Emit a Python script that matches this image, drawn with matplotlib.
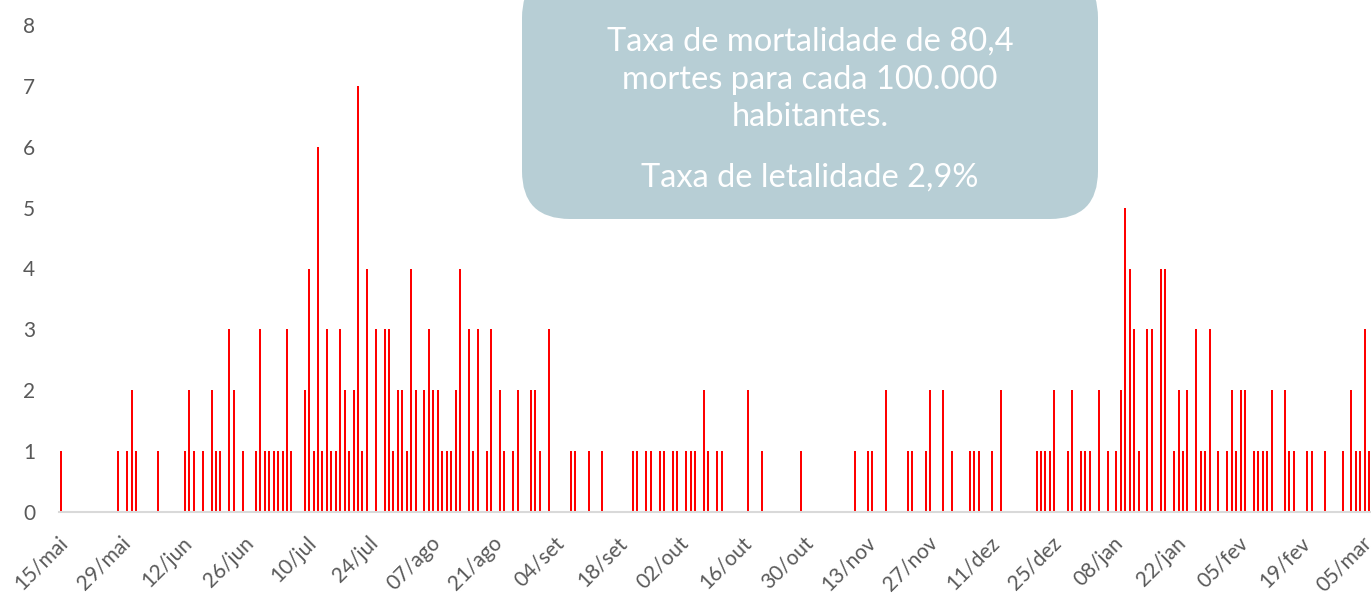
import matplotlib
matplotlib.use("Agg")
import matplotlib.pyplot as plt
import matplotlib.transforms as mtrans
from matplotlib.patches import FancyBboxPatch
import numpy as np

# óbitos diários a partir de 15/mai (uma linha = 14 dias)
obitos = [
    1, 0, 0, 0, 0, 0, 0, 0, 0, 0, 0, 0, 0, 1,
    0, 1, 2, 1, 0, 0, 0, 0, 1, 0, 0, 0, 0, 0,
    1, 2, 1, 0, 1, 0, 2, 1, 1, 0, 3, 2, 0, 1,
    0, 0, 1, 3, 1, 1, 1, 1, 1, 3, 1, 0, 0, 2,
    4, 1, 6, 1, 3, 1, 1, 3, 2, 1, 2, 7, 1, 4,
    0, 3, 0, 3, 3, 1, 2, 2, 1, 4, 2, 0, 2, 3,
    2, 2, 1, 1, 1, 2, 4, 0, 3, 1, 3, 0, 1, 3,
    0, 2, 1, 0, 1, 2, 0, 0, 2, 2, 1, 0, 3, 0,
    0, 0, 0, 1, 1, 0, 0, 1, 0, 0, 1, 0, 0, 0,
    0, 0, 0, 1, 1, 0, 1, 1, 0, 1, 1, 0, 1, 1,
    0, 1, 1, 1, 0, 2, 1, 0, 1, 1, 0, 0, 0, 0,
    0, 2, 0, 0, 1, 0, 0, 0, 0, 0, 0, 0, 0, 1,
    0, 0, 0, 0, 0, 0, 0, 0, 0, 0, 0, 1, 0, 0,
    1, 1, 0, 0, 2, 0, 0, 0, 0, 1, 1, 0, 0, 1,
    2, 0, 0, 2, 0, 1, 0, 0, 0, 1, 1, 1, 0, 0,
    1, 0, 2, 0, 0, 0, 0, 0, 0, 0, 1, 1, 1, 1,
    2, 0, 0, 1, 2, 0, 1, 1, 1, 0, 2, 0, 1, 0,
    1, 2, 5, 4, 3, 1, 0, 3, 3, 0, 4, 4, 0, 1,
    2, 1, 2, 0, 3, 1, 1, 3, 0, 1, 0, 1, 2, 1,
    2, 2, 0, 1, 1, 1, 1, 2, 0, 0, 2, 1, 1, 0,
    0, 1, 1, 0, 0, 1, 0, 0, 0, 1, 0, 2, 1, 1,
    3, 1,
]

rotulos = ["15/mai", "29/mai", "12/jun", "26/jun", "10/jul", "24/jul",
           "07/ago", "21/ago", "04/set", "18/set", "02/out", "16/out",
           "30/out", "13/nov", "27/nov", "11/dez", "25/dez", "08/jan",
           "22/jan", "05/fev", "19/fev", "05/mar"]

texto_caixa = ["Taxa de mortalidade de 80,4", "mortes para cada 100.000",
               "habitantes.", "Taxa de letalidade 2,9%"]

plt.rcParams['font.family'] = ['Lato', 'DejaVu Sans']

W, H = 1371, 593
fig = plt.figure(figsize=(W / 100, H / 100), dpi=100)
ax = fig.add_axes([59 / W, (H - 512) / H, 1 - 59 / W, 487 / H])

dias = np.arange(len(obitos))
ax.bar(dias, obitos, width=0.45, color='#FF0000', linewidth=0)

ax.set_xlim(-0.4, 295.4)
ax.set_ylim(0, 8)
ax.set_yticks(range(0, 9))
ax.set_xticks(np.arange(len(rotulos)) * 14)
ax.set_xticklabels(rotulos, rotation=45, ha='right', va='top',
                   rotation_mode='anchor')
ax.tick_params(axis='both', length=0, labelsize=15, colors='#595959')
ax.tick_params(axis='y', pad=17)
ax.tick_params(axis='x', pad=15)
desloc = mtrans.ScaledTranslation(-3 / 100, 0, fig.dpi_scale_trans)
for lbl in ax.get_xticklabels():
    lbl.set_transform(lbl.get_transform() + desloc)
for s in ['top', 'right', 'left']:
    ax.spines[s].set_visible(False)
ax.spines['bottom'].set_color('#D9D9D9')
ax.spines['bottom'].set_linewidth(1.5)

# caixa de texto em coordenadas de pixel
ov = fig.add_axes([0, 0, 1, 1])
ov.set_xlim(0, W)
ov.set_ylim(H, 0)
ov.axis('off')
ov.patch.set_alpha(0)
caixa = FancyBboxPatch((522, -30), 576, 249,
                       boxstyle="round,pad=0,rounding_size=48",
                       facecolor='#B7CED5', edgecolor='none')
ov.add_patch(caixa)
for txt, y in zip(texto_caixa, [42, 80, 117, 178]):
    ov.text(810, y, txt, ha='center', va='center', color='white',
            fontsize=23.5)

fig.savefig("out.png", dpi=100)
